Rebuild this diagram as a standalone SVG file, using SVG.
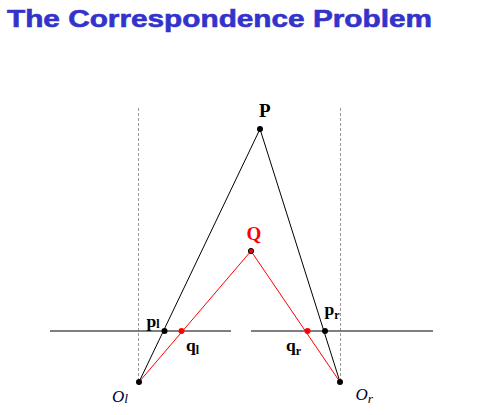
<svg xmlns="http://www.w3.org/2000/svg" width="481" height="415" viewBox="0 0 481 415">
<style>
.title{font-family:"Liberation Sans",Arial,sans-serif;font-weight:bold;font-size:24px;fill:#3333cc;stroke:#3333cc;stroke-width:0.6}
.lbl{font-family:"Liberation Serif","Times New Roman",serif;font-weight:bold;fill:#000}
.ital{font-family:"Liberation Serif","Times New Roman",serif;font-style:italic;fill:#000033}
.axis{stroke:#999;stroke-width:1;stroke-dasharray:3,2;fill:none}
.plane{stroke:#555;stroke-width:1.5;fill:none}
.ray{stroke:#000;stroke-width:1;fill:none}
.rray{stroke:#ff0000;stroke-width:1;fill:none}
.dot{fill:#000}
.rdot{fill:#ff0000}
</style>
<rect width="481" height="415" fill="#fff"/>
<text class="title" x="7" y="27" textLength="425" lengthAdjust="spacingAndGlyphs">The Correspondence Problem</text>
<g id="planes">
<line class="axis" x1="138.5" y1="108" x2="138.5" y2="382"/>
<line class="axis" x1="340.5" y1="108" x2="340.5" y2="382"/>
<line class="plane" x1="50" y1="331" x2="231" y2="331"/>
<line class="plane" x1="251" y1="331" x2="433" y2="331"/>
</g>
<g id="connectors">
<line class="ray" x1="260" y1="129" x2="139" y2="382"/>
<line class="ray" x1="260" y1="129" x2="340" y2="382"/>
<line class="rray" x1="251" y1="251" x2="139" y2="382"/>
<line class="rray" x1="251" y1="251" x2="340" y2="382"/>
</g>
<g id="P">
<circle class="dot" cx="260" cy="129" r="3"/>
<text class="lbl" x="259" y="117" font-size="19">P</text>
</g>
<g id="Q">
<circle cx="251" cy="251" r="2.6" fill="#ff0000" stroke="#000" stroke-width="1"/>
<text class="lbl" x="246.5" y="239.5" font-size="19" style="fill:#ff0000">Q</text>
</g>
<g id="Ol">
<circle class="dot" cx="139" cy="382" r="3"/>
<text class="ital" x="112" y="401.5" font-size="17">O<tspan font-size="13.5" dy="1.5">l</tspan></text>
</g>
<g id="Or">
<circle class="dot" cx="340" cy="382" r="3"/>
<text class="ital" x="355.5" y="400" font-size="17">O<tspan font-size="13.5" dy="3">r</tspan></text>
</g>
<g id="pl">
<circle class="dot" cx="164.5" cy="331" r="3"/>
<text class="lbl" x="146.5" y="326.5" font-size="17.5">p<tspan font-size="12" dy="1.5">l</tspan></text>
</g>
<g id="ql">
<circle class="rdot" cx="181.5" cy="331" r="3"/>
<text class="lbl" x="186" y="351" font-size="17.5">q<tspan font-size="12" dy="3">l</tspan></text>
</g>
<g id="pr">
<circle class="dot" cx="325" cy="331" r="3"/>
<text class="lbl" x="324.5" y="315" font-size="17.5">p<tspan font-size="12" dy="3.5">r</tspan></text>
</g>
<g id="qr">
<circle class="rdot" cx="307.5" cy="331" r="3"/>
<text class="lbl" x="286" y="351" font-size="17.5">q<tspan font-size="12" dy="3.5">r</tspan></text>
</g>
</svg>
